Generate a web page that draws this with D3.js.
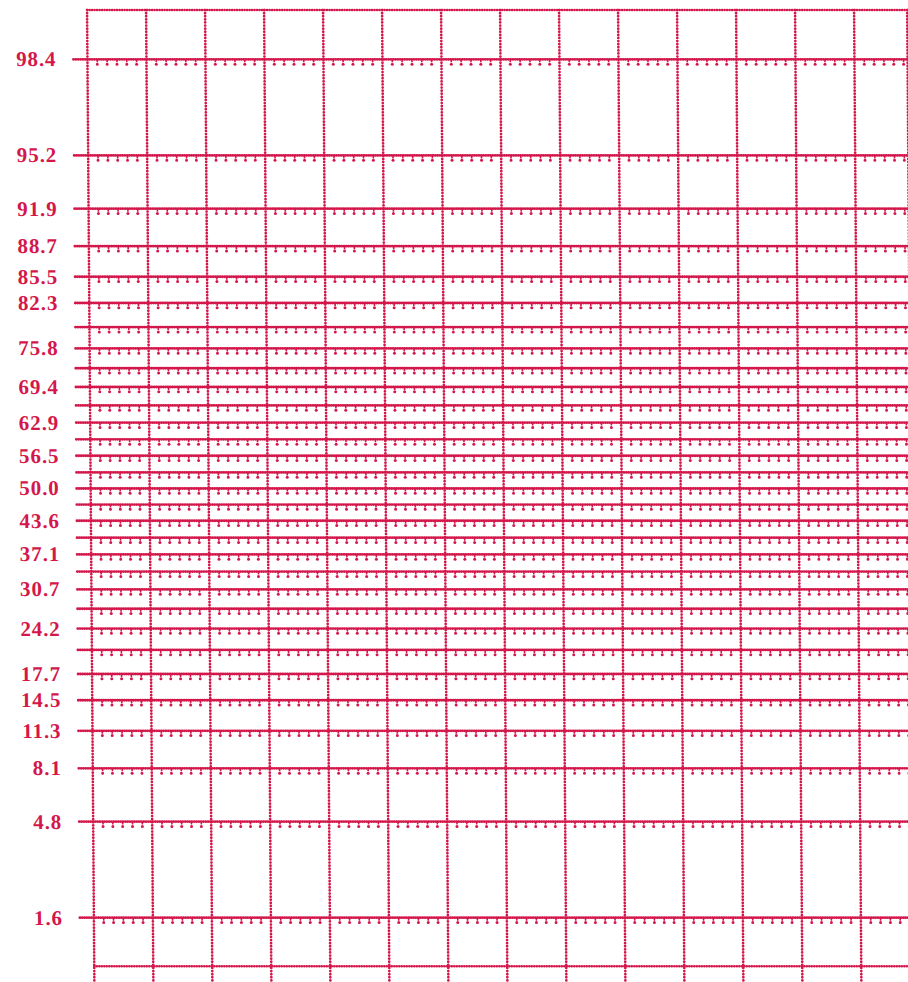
<!DOCTYPE html>
<html>
<head>
<meta charset="utf-8">
<script src="https://cdn.jsdelivr.net/npm/d3@7"></script>
<style>
  html, body { margin: 0; padding: 0; background: #fff; }
  svg { display: block; }
</style>
</head>
<body>
<svg id="chart" width="908" height="982"></svg>
<script>
// ---- data ----
// cumulative-probability grid lines (%), plotting positions (i-0.5)/31
const gridProbs = [1.6, 4.8, 8.1, 11.3, 14.5, 17.7, 21.0, 24.2, 27.4, 30.7, 33.9, 37.1, 40.3, 43.6, 46.8,
                   50.0, 53.2, 56.5, 59.7, 62.9, 66.1, 69.4, 72.6, 75.8, 79.0, 82.3, 85.5, 88.7, 91.9, 95.2, 98.4];
// labelled lines
const labelProbs = [1.6, 4.8, 8.1, 11.3, 14.5, 17.7, 24.2, 30.7, 37.1, 43.6, 50.0, 56.5, 62.9, 69.4, 75.8,
                    82.3, 85.5, 88.7, 91.9, 95.2, 98.4];
// frame (%)
const frameProbs = [0.85, 99.16];
// vertical rulings (column index) and right frame
const columns = [0, 1, 2, 3, 4, 5, 6, 7, 8, 9, 10, 11, 12, 13];
const rightFrame = 13.9;

const color = "#d4174b";

// inverse standard normal CDF (Acklam)
function probit(p) {
  const a = [-3.969683028665376e+01, 2.209460984245205e+02, -2.759285104469687e+02, 1.383577518672690e+02, -3.066479806614716e+01, 2.506628277459239e+00];
  const b = [-5.447609879822406e+01, 1.615858368580409e+02, -1.556989798598866e+02, 6.680131188771972e+01, -1.328068155288572e+01];
  const c = [-7.784894002430293e-03, -3.223964580411365e-01, -2.400758277161838e+00, -2.549671500763750e+00, 4.374664141464968e+00, 2.938163982698783e+00];
  const d = [7.784695709041462e-03, 3.224671290700398e-01, 2.445134137142996e+00, 3.754408661907416e+00];
  const pl = 0.02425;
  let q, r;
  if (p < pl) {
    q = Math.sqrt(-2 * Math.log(p));
    return (((((c[0]*q+c[1])*q+c[2])*q+c[3])*q+c[4])*q+c[5]) / ((((d[0]*q+d[1])*q+d[2])*q+d[3])*q+1);
  } else if (p <= 1 - pl) {
    q = p - 0.5; r = q*q;
    return (((((a[0]*r+a[1])*r+a[2])*r+a[3])*r+a[4])*r+a[5])*q / (((((b[0]*r+b[1])*r+b[2])*r+b[3])*r+b[4])*r+1);
  } else {
    q = Math.sqrt(-2 * Math.log(1 - p));
    return -(((((c[0]*q+c[1])*q+c[2])*q+c[3])*q+c[4])*q+c[5]) / ((((d[0]*q+d[1])*q+d[2])*q+d[3])*q+1);
  }
}

const zScale = d3.scaleLinear()
  .domain([probit(0.016129), probit(0.983871)])
  .range([917, 60]);
const y = p => zScale(probit(p / 100));
const x = d3.scaleLinear().domain([0, 14]).range([87, 913]);

const svg = d3.select("#chart");
// slight scanner skew
const g = svg.append("g").attr("transform", "skewX(0.43)");

const xLeft = 73, xRight = x(rightFrame);
const yTop = y(frameProbs[1]), yBot = y(frameProbs[0]);

// vertical rulings
g.selectAll("line.v").data(columns.concat([rightFrame])).join("line")
  .attr("class", "v")
  .attr("x1", d => x(d)).attr("x2", d => x(d))
  .attr("y1", yTop).attr("y2", 990)
  .attr("stroke", color).attr("stroke-width", 2.7)
  .attr("stroke-linecap", "round").attr("stroke-dasharray", "0.1,3");

// frame top & bottom
g.selectAll("line.f").data(frameProbs).join("line")
  .attr("class", "f")
  .attr("x1", x(0)).attr("x2", xRight)
  .attr("y1", d => y(d)).attr("y2", d => y(d))
  .attr("stroke", color).attr("stroke-width", 2.5)
  .attr("stroke-linecap", "round").attr("stroke-dasharray", "0.1,2.4");

// horizontal probability rulings
g.selectAll("line.h").data(gridProbs).join("line")
  .attr("class", "h")
  .attr("x1", xLeft).attr("x2", xRight + 2)
  .attr("y1", d => y(d)).attr("y2", d => y(d))
  .attr("stroke", color).attr("stroke-width", 2.8)
  .attr("stroke-linecap", "round").attr("stroke-dasharray", "0.1,2.2");

// small hanging minor ticks under each ruling
const minor = d3.range(0, rightFrame, 1 / 6).filter(v => Math.abs(v - Math.round(v)) > 0.01);
gridProbs.forEach(p => {
  const yy = y(p);
  g.append("g").selectAll("line").data(minor).join("line")
    .attr("x1", d => x(d)).attr("x2", d => x(d))
    .attr("y1", yy).attr("y2", yy + 3)
    .attr("stroke", color).attr("stroke-width", 1.6);
  g.append("g").selectAll("circle").data(minor).join("circle")
    .attr("cx", d => x(d)).attr("cy", yy + 4.8)
    .attr("r", 1.5).attr("fill", color);
});

// labels
g.selectAll("text.lab").data(labelProbs).join("text")
  .attr("class", "lab")
  .attr("x", 56).attr("y", d => y(d) + 7)
  .attr("text-anchor", "end")
  .attr("font-family", "'Liberation Serif', 'DejaVu Serif', serif")
  .attr("font-weight", "bold").attr("font-size", 21)
  .attr("letter-spacing", 0.9)
  .attr("fill", color)
  .text(d => d.toFixed(1));
</script>
</body>
</html>
